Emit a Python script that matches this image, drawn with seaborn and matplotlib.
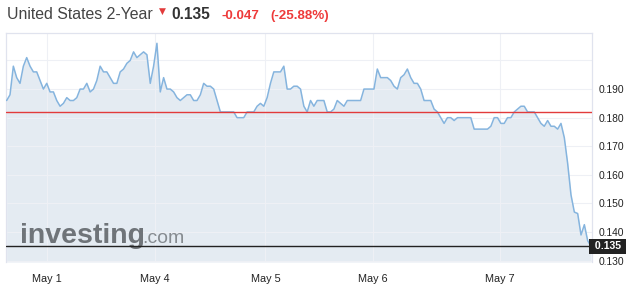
import matplotlib
matplotlib.use("Agg")
import matplotlib.pyplot as plt
import matplotlib.transforms as mtransforms
import numpy as np
import pandas as pd
import seaborn as sns

# ---------------- data ----------------
title_name = "United States 2-Year"
last_price = "0.135"
change_abs = "-0.047"
change_pct = "(-25.88%)"
prev_close = 0.182
last_value = 0.135

yields = [
    0.186, 0.188, 0.198, 0.194, 0.192, 0.198, 0.201, 0.198, 0.196, 0.196,
    0.193, 0.190, 0.192, 0.189, 0.189, 0.186, 0.184, 0.185, 0.187, 0.186,
    0.186, 0.187, 0.190, 0.190, 0.192, 0.189, 0.190, 0.193, 0.198, 0.196,
    0.196, 0.194, 0.192, 0.192, 0.196, 0.197, 0.199, 0.200, 0.203, 0.201,
    0.202, 0.203, 0.202, 0.192, 0.198, 0.206, 0.189, 0.194, 0.190, 0.190,
    0.189, 0.187, 0.186, 0.187, 0.188, 0.188, 0.186, 0.186, 0.188, 0.192,
    0.191, 0.191, 0.190, 0.186, 0.182, 0.182, 0.182, 0.182, 0.182, 0.180,
    0.180, 0.180, 0.182, 0.182, 0.182, 0.184, 0.185, 0.184, 0.187, 0.192,
    0.196, 0.196, 0.196, 0.198, 0.190, 0.190, 0.191, 0.191, 0.190, 0.184,
    0.182, 0.186, 0.184, 0.186, 0.186, 0.186, 0.182, 0.182, 0.183, 0.186,
    0.185, 0.184, 0.186, 0.186, 0.186, 0.186, 0.186, 0.190, 0.190, 0.190,
    0.190, 0.197, 0.194, 0.194, 0.194, 0.193, 0.191, 0.190, 0.194, 0.195,
    0.197, 0.194, 0.192, 0.192, 0.190, 0.186, 0.186, 0.186, 0.183, 0.182,
    0.180, 0.178, 0.180, 0.180, 0.179, 0.180, 0.180, 0.180, 0.180, 0.180,
    0.176, 0.176, 0.176, 0.176, 0.176, 0.177, 0.180, 0.180, 0.178, 0.178,
    0.180, 0.180, 0.182, 0.183, 0.184, 0.184, 0.182, 0.182, 0.182, 0.180,
    0.178, 0.177, 0.179, 0.177, 0.177, 0.176, 0.178, 0.173, 0.164, 0.153,
    0.147, 0.1465, 0.139, 0.1426, 0.137, 0.135,
]
day_labels = ["May 1", "May 4", "May 5", "May 6", "May 7"]
day_index = [12.1, 44.5, 77.5, 109.6, 147.7]   # sample index where each day label sits
ytick_values = [0.130, 0.140, 0.150, 0.160, 0.170, 0.180, 0.190]
ygrid_values = [0.130, 0.140, 0.150, 0.160, 0.170, 0.180, 0.190, 0.200]

df = pd.DataFrame({"t": np.arange(len(yields)), "yield": yields})

# ---------------- style ----------------
sns.set_style("white")
plt.rcParams["font.family"] = ["Liberation Sans", "DejaVu Sans"]

W, H = 634, 297
fig = plt.figure(figsize=(W / 100, H / 100), dpi=100)
ax = fig.add_axes([6 / W, (H - 262) / H, (591.7 - 6) / W, (262 - 33) / H])

ymin, ymax = 0.12955, 0.2096
ax.set_ylim(ymin, ymax)
ax.set_xlim(-0.2, len(yields) - 1 + 0.2)

line_color = "#85b4de"
fill_color = "#e4ebf2"

ax.fill_between(df["t"], df["yield"], ymin, color=fill_color, lw=0, zorder=1)
sns.lineplot(data=df, x="t", y="yield", ax=ax, color=line_color, lw=1.1, zorder=3)

# grid
for v in ygrid_values:
    ax.axhline(v, color="#eef0f5", lw=0.8, zorder=2)
for d in day_index:
    ax.axvline(d, color="#eef0f5", lw=0.8, zorder=2)

# reference lines
ax.axhline(prev_close, color="#e23b3b", lw=1.0, zorder=4)
ax.axhline(last_value, color="#222222", lw=1.0, zorder=4)

# spines
for s in ["top", "left", "right"]:
    ax.spines[s].set_visible(True)
    ax.spines[s].set_color("#e0e3ee")
    ax.spines[s].set_linewidth(0.9)
ax.spines["bottom"].set_visible(False)

# ticks
ax.yaxis.tick_right()
ax.set_yticks(ytick_values)
ax.set_yticklabels([f"{v:.3f}" for v in ytick_values])
ax.set_xticks(day_index)
ax.set_xticklabels(day_labels)
ax.tick_params(axis="y", length=0, pad=5, labelsize=7.4, labelcolor="#222222")
ax.tick_params(axis="x", length=0, pad=9, labelsize=7.8, labelcolor="#222222")
ax.set_xlabel("")
ax.set_ylabel("")

# last value tag on right axis
trans = mtransforms.blended_transform_factory(ax.transAxes, ax.transData)
ax.text(1.0, last_value, " " + last_price + " ", transform=trans, ha="left", va="center",
        fontsize=7.6, fontweight="bold", color="white", zorder=6, clip_on=False,
        bbox=dict(boxstyle="square,pad=0.25", fc="#222222", ec="none"))

# watermark
ax.text(14 / 585.7, 0.1362, "investing", transform=trans, fontsize=20.5, fontweight="bold",
        color="#62676c", alpha=0.9, ha="left", va="baseline", zorder=2)
ax.text(136 / 585.7, 0.1362, ".com", transform=trans, fontsize=14, color="#7c8186",
        alpha=0.9, ha="left", va="baseline", zorder=2)

# header
fig.text(7 / W, 1 - 19.3 / H, title_name, fontsize=11.4, color="#444444", ha="left", va="baseline")
fig.text(162.5 / W, 1 - 14 / H, "\u25bc", fontsize=6.5, color="#e23b3b", ha="center", va="baseline",
         family=["DejaVu Sans"])
fig.text(171.5 / W, 1 - 19.3 / H, last_price, fontsize=11.2, fontweight="bold", color="#333333",
         ha="left", va="baseline")
fig.text(221.5 / W, 1 - 19.3 / H, change_abs, fontsize=9.6, fontweight="bold", color="#ee3a3a",
         ha="left", va="baseline")
fig.text(270 / W, 1 - 19.3 / H, change_pct, fontsize=9.6, fontweight="bold", color="#ee3a3a",
         ha="left", va="baseline")

fig.savefig("out.png", dpi=100)
